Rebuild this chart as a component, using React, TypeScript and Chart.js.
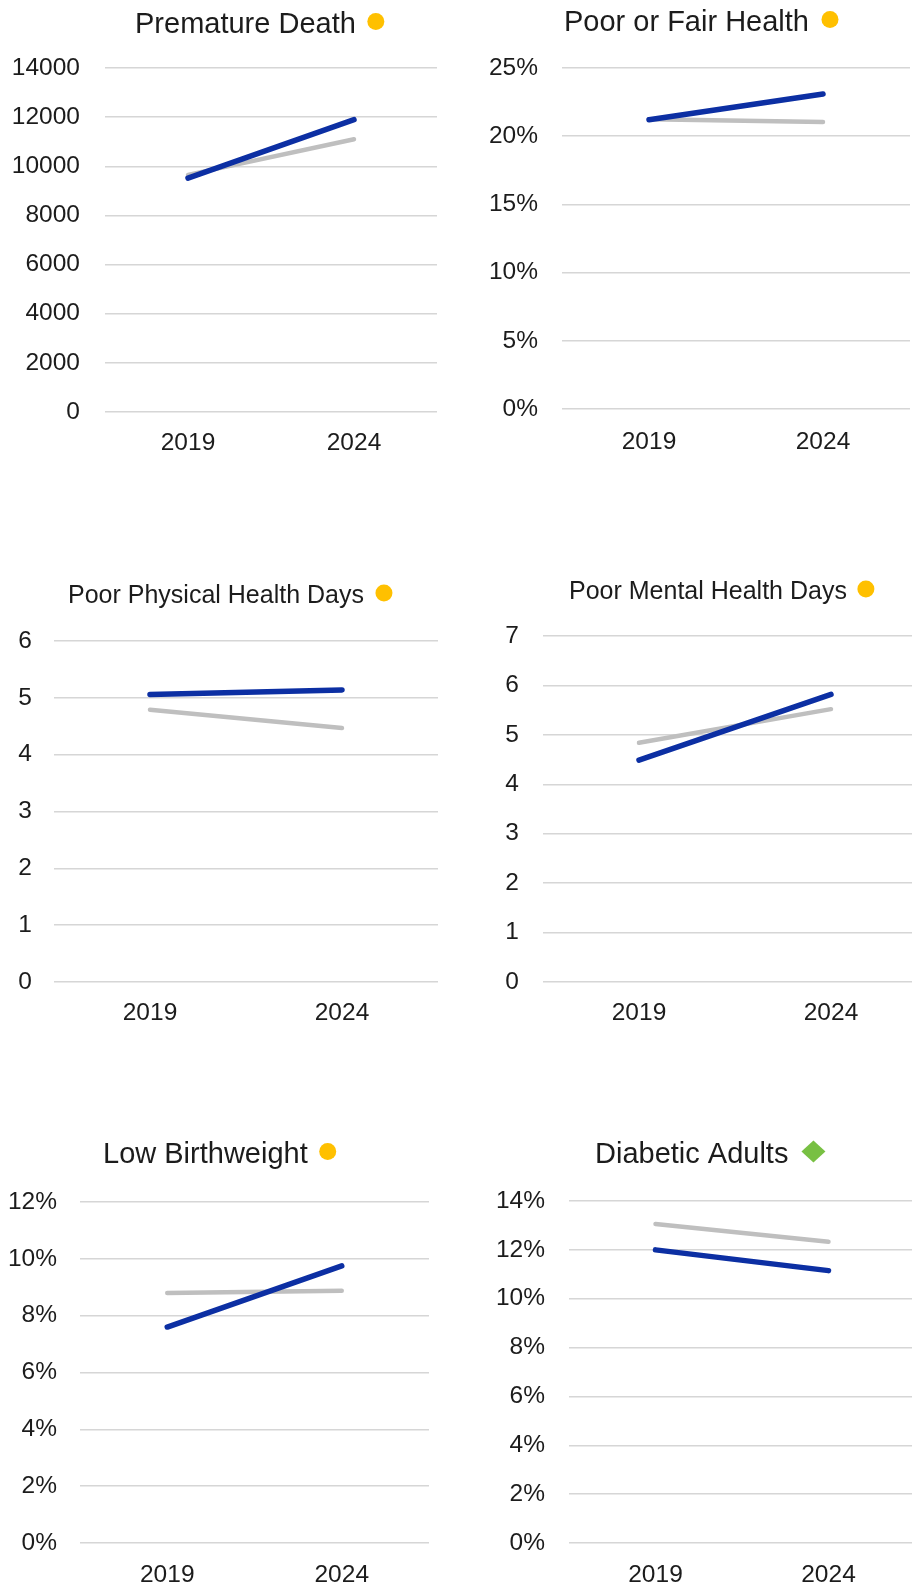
import React, { useEffect, useRef } from "react";
import { Chart, registerables } from "chart.js";

Chart.register(...registerables);

// ---------- DATA ----------
const years = ["2019", "2024"];

const prematureDeathCounty = [9520, 11900];
const prematureDeathState = [9650, 11100];
const prematureDeathTicks = [0, 2000, 4000, 6000, 8000, 10000, 12000, 14000];

const poorFairHealthCounty = [21.2, 23.1];
const poorFairHealthState = [21.25, 21.05];
const poorFairHealthTicks = [0, 5, 10, 15, 20, 25];

const poorPhysicalDaysCounty = [5.06, 5.14];
const poorPhysicalDaysState = [4.79, 4.47];
const poorPhysicalDaysTicks = [0, 1, 2, 3, 4, 5, 6];

const poorMentalDaysCounty = [4.49, 5.82];
const poorMentalDaysState = [4.84, 5.52];
const poorMentalDaysTicks = [0, 1, 2, 3, 4, 5, 6, 7];

const lowBirthweightCounty = [7.6, 9.75];
const lowBirthweightState = [8.8, 8.88];
const lowBirthweightTicks = [0, 2, 4, 6, 8, 10, 12];

const diabeticAdultsCounty = [12.0, 11.15];
const diabeticAdultsState = [13.06, 12.33];
const diabeticAdultsTicks = [0, 2, 4, 6, 8, 10, 12, 14];

// ---------- STYLE / LAYOUT ----------
const FONT = '"Liberation Sans", Arial, Helvetica, sans-serif';
const TEXT = "#1c1c1c";
const BLUE = "#0c2fa3";
const GREY = "#bfbfbf";
const GRID = "#d6d6d6";
const YELLOW = "#ffc000";
const GREEN = "#78c043";
const TICK_SIZE = 24.5;

type Box = { left: number; top: number; width: number; height: number };
type Area = { left: number; right: number; top: number; bottom: number };

type PanelSpec = {
  title: string;
  marker: "dot" | "diamond";
  markerColor: string;
  county: number[];
  state: number[];
  ticks: number[];
  suffix: string;
  box: Box;
  area: Area;
  yLabelRight: number;
  xLabelCenter: number;
  titleX: number;
  titleBaseline: number;
  titleSize: number;
  markerGap: number;
};

const panels: PanelSpec[] = [
  {
    title: "Premature Death", marker: "dot", markerColor: YELLOW,
    county: prematureDeathCounty, state: prematureDeathState, ticks: prematureDeathTicks, suffix: "",
    box: { left: 0, top: 0, width: 456, height: 470 },
    area: { left: 105, right: 437, top: 68, bottom: 412 },
    yLabelRight: 80, xLabelCenter: 443,
    titleX: 135, titleBaseline: 33, titleSize: 29, markerGap: 20,
  },
  {
    title: "Poor or Fair Health", marker: "dot", markerColor: YELLOW,
    county: poorFairHealthCounty, state: poorFairHealthState, ticks: poorFairHealthTicks, suffix: "%",
    box: { left: 456, top: 0, width: 456, height: 470 },
    area: { left: 562, right: 910, top: 68, bottom: 409 },
    yLabelRight: 538, xLabelCenter: 442,
    titleX: 564, titleBaseline: 31, titleSize: 29, markerGap: 21,
  },
  {
    title: "Poor Physical Health Days", marker: "dot", markerColor: YELLOW,
    county: poorPhysicalDaysCounty, state: poorPhysicalDaysState, ticks: poorPhysicalDaysTicks, suffix: "",
    box: { left: 0, top: 540, width: 456, height: 490 },
    area: { left: 54, right: 438, top: 641, bottom: 982 },
    yLabelRight: 32, xLabelCenter: 1013,
    titleX: 68, titleBaseline: 603, titleSize: 25, markerGap: 20,
  },
  {
    title: "Poor Mental Health Days", marker: "dot", markerColor: YELLOW,
    county: poorMentalDaysCounty, state: poorMentalDaysState, ticks: poorMentalDaysTicks, suffix: "",
    box: { left: 456, top: 540, width: 471, height: 490 },
    area: { left: 543, right: 927, top: 636, bottom: 982 },
    yLabelRight: 519, xLabelCenter: 1013,
    titleX: 569, titleBaseline: 599, titleSize: 25, markerGap: 19,
  },
  {
    title: "Low Birthweight", marker: "dot", markerColor: YELLOW,
    county: lowBirthweightCounty, state: lowBirthweightState, ticks: lowBirthweightTicks, suffix: "%",
    box: { left: 0, top: 1100, width: 456, height: 491 },
    area: { left: 80, right: 429, top: 1202, bottom: 1543 },
    yLabelRight: 57, xLabelCenter: 1575,
    titleX: 103, titleBaseline: 1163, titleSize: 29, markerGap: 20,
  },
  {
    title: "Diabetic Adults", marker: "diamond", markerColor: GREEN,
    county: diabeticAdultsCounty, state: diabeticAdultsState, ticks: diabeticAdultsTicks, suffix: "%",
    box: { left: 456, top: 1100, width: 459, height: 491 },
    area: { left: 569, right: 915, top: 1201, bottom: 1543 },
    yLabelRight: 545, xLabelCenter: 1575,
    titleX: 595, titleBaseline: 1163, titleSize: 29, markerGap: 25,
  },
];

document.body.style.margin = "0";

function Panel({ spec }: { spec: PanelSpec }) {
  const ref = useRef<HTMLCanvasElement | null>(null);

  useEffect(() => {
    const canvas = ref.current;
    if (!canvas) return;
    const { box, area } = spec;
    const padRight = box.left + box.width - area.right;
    const padTop = area.top - box.top;
    const yWidth = area.left - box.left;
    const xHeight = box.top + box.height - area.bottom;
    const yPad = area.left - spec.yLabelRight;
    const xPad = spec.xLabelCenter - area.bottom - (TICK_SIZE * 1.2) / 2;

    const titlePlugin = {
      id: "panelTitle",
      afterDraw(chart: any) {
        const ctx = chart.ctx as CanvasRenderingContext2D;
        ctx.save();
        ctx.font = `${spec.titleSize}px ${FONT}`;
        ctx.fillStyle = TEXT;
        ctx.textAlign = "left";
        ctx.textBaseline = "alphabetic";
        const x = spec.titleX - box.left;
        const y = spec.titleBaseline - box.top;
        ctx.fillText(spec.title, x, y);
        const w = ctx.measureText(spec.title).width;
        const cx = x + w + spec.markerGap;
        const cy = y - spec.titleSize * 0.4;
        ctx.fillStyle = spec.markerColor;
        ctx.beginPath();
        if (spec.marker === "dot") {
          ctx.arc(cx, cy, 8.5, 0, Math.PI * 2);
        } else {
          ctx.moveTo(cx, cy - 11);
          ctx.lineTo(cx + 12, cy);
          ctx.lineTo(cx, cy + 11);
          ctx.lineTo(cx - 12, cy);
          ctx.closePath();
        }
        ctx.fill();
        ctx.restore();
      },
    };

    const ticks = spec.ticks;
    const chart = new Chart(canvas, {
      type: "line",
      data: {
        labels: years,
        datasets: [
          {
            label: "County",
            data: spec.county,
            borderColor: BLUE,
            borderWidth: 5.5,
            borderCapStyle: "round",
            pointRadius: 0,
            tension: 0,
            fill: false,
          },
          {
            label: "State",
            data: spec.state,
            borderColor: GREY,
            borderWidth: 4.5,
            borderCapStyle: "round",
            pointRadius: 0,
            tension: 0,
            fill: false,
          },
        ],
      },
      options: {
        responsive: false,
        animation: false,
        devicePixelRatio: 1,
        layout: { padding: { left: 0, right: padRight, top: padTop, bottom: 0 } },
        plugins: {
          legend: { display: false },
          title: { display: false },
          tooltip: { enabled: false },
        },
        scales: {
          x: {
            type: "category",
            offset: true,
            grid: { display: false, drawTicks: false },
            border: { display: false },
            ticks: {
              padding: xPad,
              color: TEXT,
              font: { family: FONT, size: TICK_SIZE },
              maxRotation: 0,
              autoSkip: false,
            },
            afterFit: (scale: any) => {
              scale.height = xHeight;
            },
          },
          y: {
            min: ticks[0],
            max: ticks[ticks.length - 1],
            grid: { color: GRID, lineWidth: 1.5, drawTicks: false },
            border: { display: false },
            ticks: {
              stepSize: ticks[1] - ticks[0],
              padding: yPad,
              color: TEXT,
              font: { family: FONT, size: TICK_SIZE },
              autoSkip: false,
              callback: (v: any) => `${v}${spec.suffix}`,
            },
            afterFit: (scale: any) => {
              scale.width = yWidth;
            },
          },
        },
      },
      plugins: [titlePlugin],
    } as any);

    return () => chart.destroy();
  }, [spec]);

  return (
    <canvas
      ref={ref}
      width={spec.box.width}
      height={spec.box.height}
      style={{
        position: "absolute",
        left: spec.box.left,
        top: spec.box.top,
        width: spec.box.width,
        height: spec.box.height,
      }}
    />
  );
}

export default function App() {
  return (
    <div
      style={{
        position: "relative",
        width: 912,
        height: 1591,
        overflow: "hidden",
        background: "#ffffff",
      }}
    >
      {panels.map((p) => (
        <Panel key={p.title} spec={p} />
      ))}
    </div>
  );
}
